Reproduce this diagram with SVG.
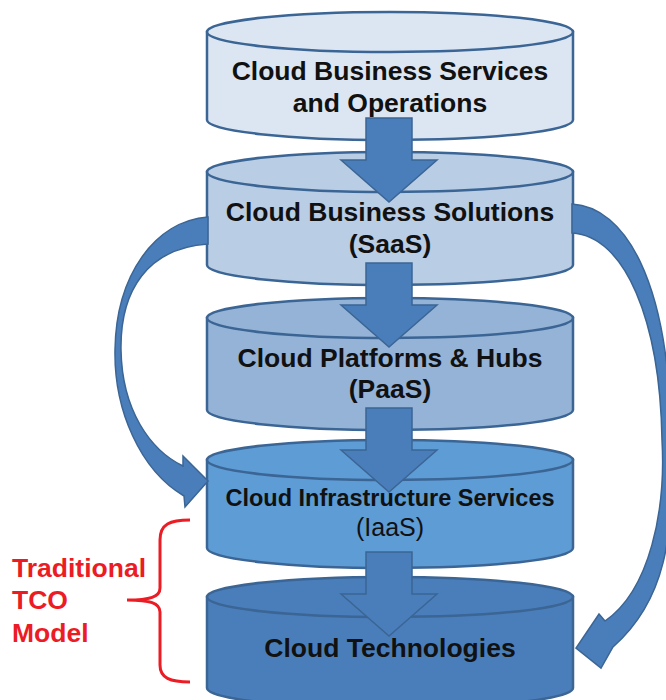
<svg xmlns="http://www.w3.org/2000/svg" width="666" height="700" viewBox="0 0 666 700">
  <style>
    .can { stroke: #3b6594; stroke-width: 2.5; }
    .flow { fill: #4a7ebb; stroke: #3b6594; stroke-width: 1.5; stroke-linejoin: miter; }
    .label { font-family: "Liberation Sans", Arial, sans-serif; font-weight: bold; font-size: 26.5px; fill: #111; text-anchor: middle; }
    .note { font-family: "Liberation Sans", Arial, sans-serif; font-weight: bold; font-size: 26.5px; fill: #ec1c24; }
  </style>
  <defs>
    <!-- block down-arrow, origin at the top-centre of the shaft -->
    <path id="down" d="M -23 0 L 23 0 L 23 42 L 48 42 L 0 84 L -48 42 L -23 42 Z"/>
  </defs>

  <rect width="666" height="700" fill="#ffffff"/>

  <!-- Stacked layers -->
  <g id="layer-business-ops">
    <path class="can" fill="#dce6f2" d="M 207 32 L 207 120 A 183 20 0 0 0 573 120 L 573 32 Z"/>
    <ellipse class="can" fill="#dce6f2" cx="390" cy="32" rx="183" ry="20"/>
  </g>
  <g id="layer-saas">
    <path class="can" fill="#b9cde5" d="M 207 172 L 207 265 A 183 20 0 0 0 573 265 L 573 172 Z"/>
    <ellipse class="can" fill="#b9cde5" cx="390" cy="172" rx="183" ry="20"/>
  </g>
  <g id="layer-paas">
    <path class="can" fill="#95b3d7" d="M 207 318 L 207 410 A 183 20 0 0 0 573 410 L 573 318 Z"/>
    <ellipse class="can" fill="#95b3d7" cx="390" cy="318" rx="183" ry="20"/>
  </g>
  <g id="layer-iaas">
    <path class="can" fill="#5e9cd6" d="M 207 460 L 207 548 A 183 20 0 0 0 573 548 L 573 460 Z"/>
    <ellipse class="can" fill="#5e9cd6" cx="390" cy="460" rx="183" ry="20"/>
  </g>
  <g id="layer-technologies">
    <path class="can" fill="#4a7ebb" d="M 207 597 L 207 688 A 183 20 0 0 0 573 688 L 573 597 Z"/>
    <ellipse class="can" fill="#4a7ebb" cx="390" cy="597" rx="183" ry="20"/>
  </g>

  <!-- Connectors -->
  <g id="connectors">
    <use href="#down" class="flow" x="389" y="118"/>
    <use href="#down" class="flow" x="389" y="263"/>
    <use href="#down" class="flow" x="389" y="408"/>
    <use href="#down" class="flow" x="389" y="552"/>
    <!-- SaaS bypass to IaaS (left) -->
    <path class="flow" d="M 208 217 C 155 221, 116 275, 115 350 C 114 410, 140 470, 184 496 L 185 507 L 208 481 L 183 456 L 183 466 C 150 450, 122 410, 121 350 C 120 290, 148 248, 208 244 Z"/>
    <!-- SaaS bypass to Technologies (right) -->
    <path class="flow" d="M 572 204 C 625 207, 668 280, 671 430 C 676 540, 664 602, 613 647 L 601 668 L 576 648 L 599 614 L 605 621 C 650 590, 666 510, 662 440 C 660 320, 625 236, 572 233 Z"/>
  </g>

  <!-- Layer captions -->
  <g id="captions">
    <text class="label" x="390" y="80">Cloud Business Services</text>
    <text class="label" x="390" y="112">and Operations</text>
    <text class="label" x="390" y="221">Cloud Business Solutions</text>
    <text class="label" x="390" y="253">(SaaS)</text>
    <text class="label" x="390" y="367">Cloud Platforms &amp; Hubs</text>
    <text class="label" x="390" y="398">(PaaS)</text>
    <text class="label" x="390" y="506" style="font-size:23.5px">Cloud Infrastructure  Services</text>
    <text class="label" x="390" y="536" style="font-weight:normal;font-size:25px">(IaaS)</text>
    <text class="label" x="390" y="657">Cloud Technologies</text>
  </g>

  <!-- Traditional TCO bracket -->
  <g id="tco-bracket">
    <path d="M 190 520 C 170 520, 160 524, 160 540 L 160 588 C 160 597, 150 600, 127 600 C 150 600, 160 603, 160 612 L 160 665 C 160 678, 170 682, 190 682" fill="none" stroke="#ec1c24" stroke-width="3"/>
    <text class="note" x="12" y="577">Traditional</text>
    <text class="note" x="12" y="609">TCO</text>
    <text class="note" x="12" y="642">Model</text>
  </g>
</svg>
